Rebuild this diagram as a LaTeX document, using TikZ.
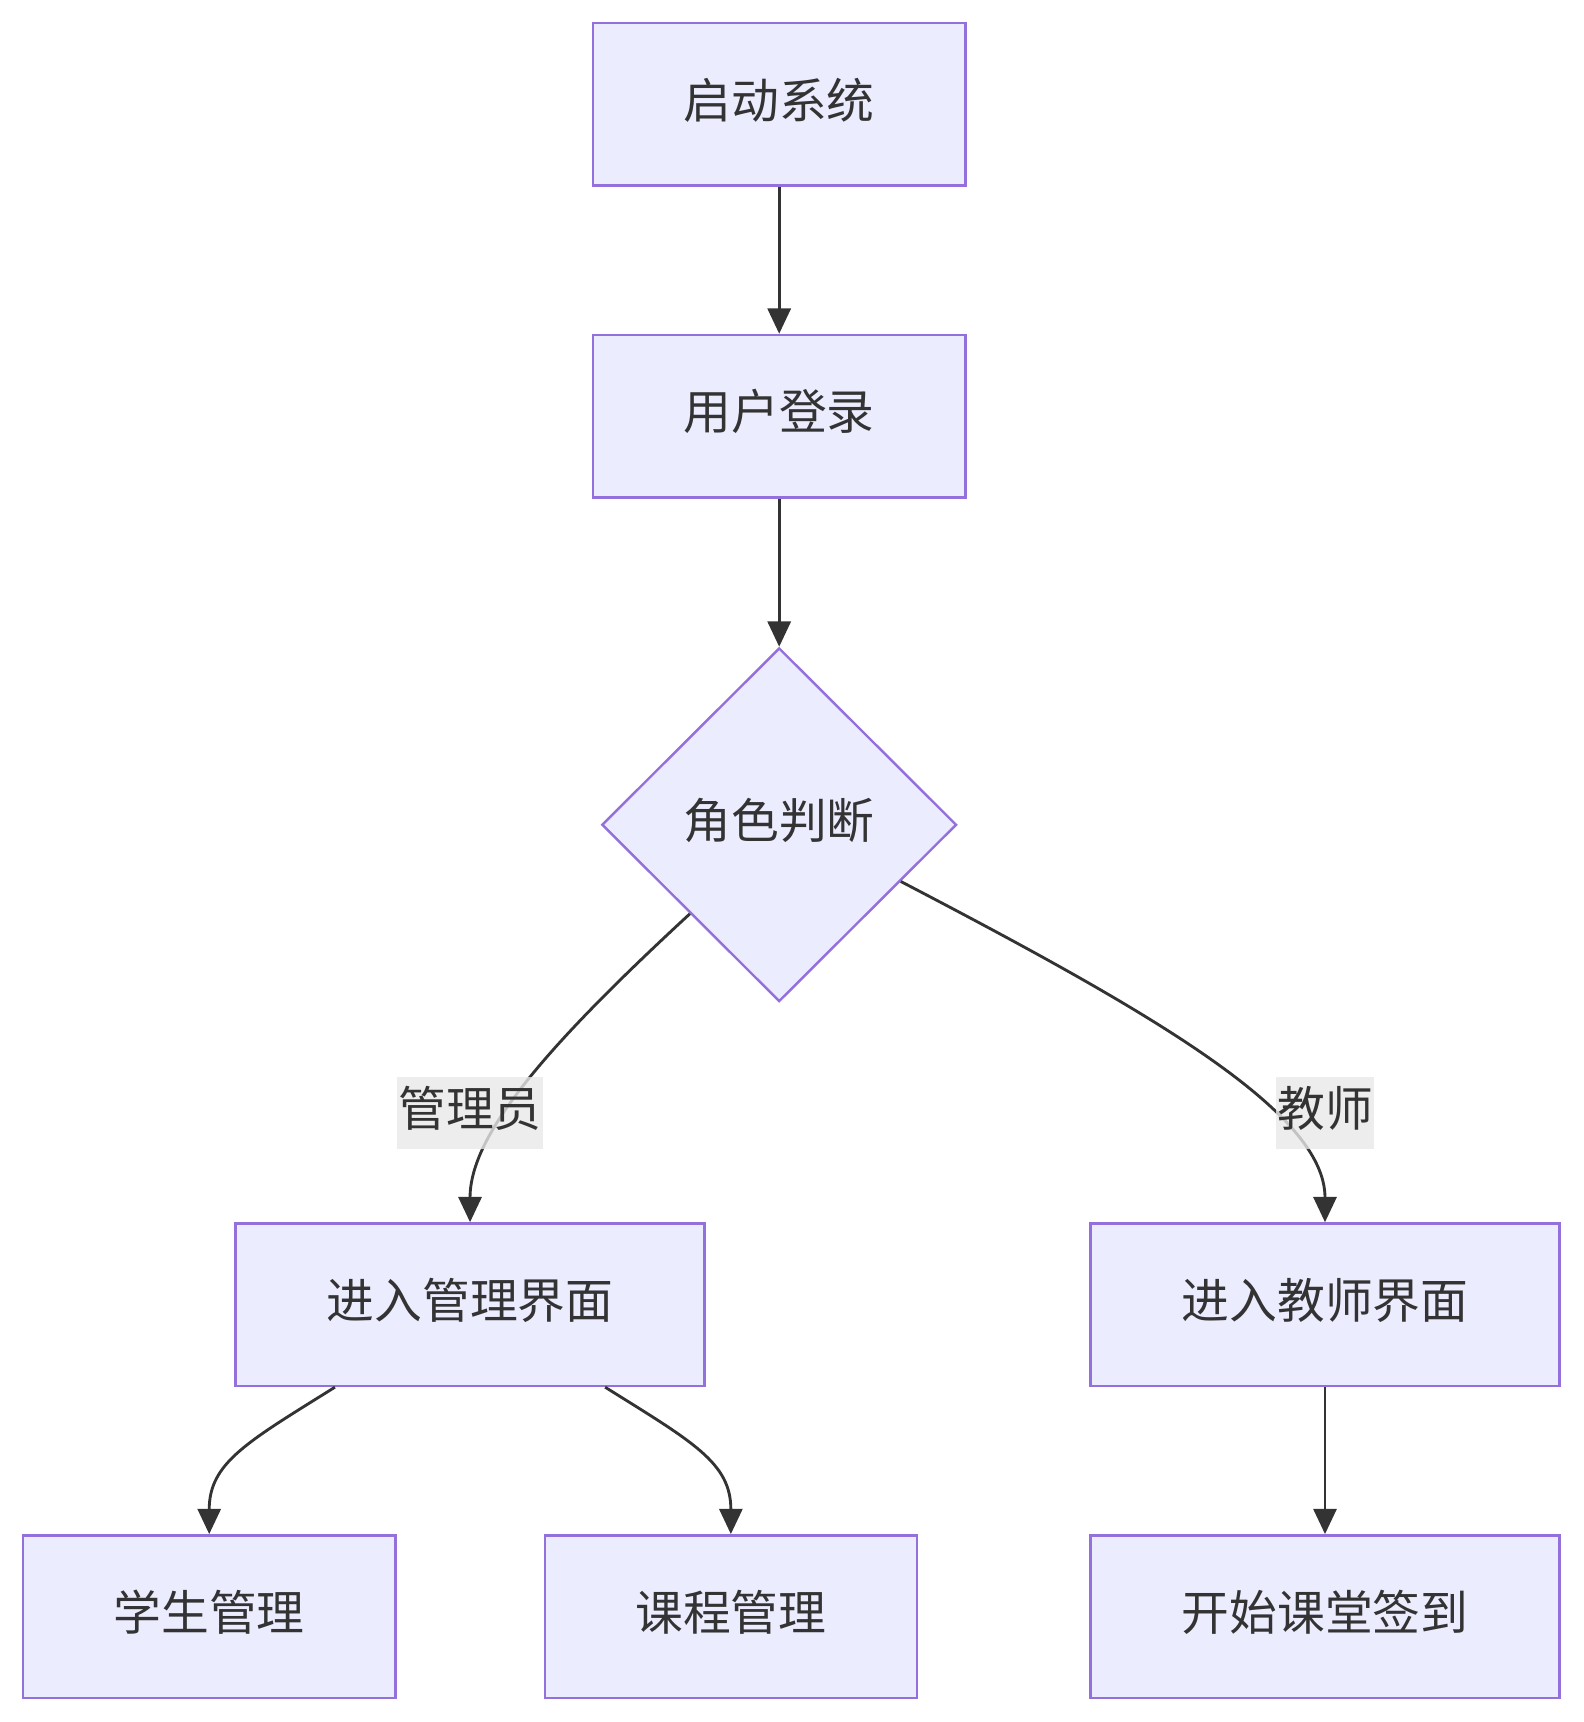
\documentclass[tikz,border=0pt]{standalone}
\usepackage{fontspec}
\setmainfont{Noto Sans CJK SC}
\usetikzlibrary{shapes.geometric,arrows.meta}
\definecolor{boxfill}{HTML}{ECECFF}
\definecolor{boxline}{HTML}{9370DB}
\definecolor{ink}{HTML}{333333}
\definecolor{lblfill}{HTML}{E8E8E8}

\begin{document}
\begin{tikzpicture}
  [x=1pt,y=-1pt,
   every node/.style={text=ink,font=\fontsize{43.5}{52}\selectfont,text height=33pt,text depth=8pt},
   box/.style={rectangle,draw=boxline,fill=boxfill,line width=2.2pt,minimum width=339pt,minimum height=148pt},
   wide/.style={box,minimum width=427pt},
   decision/.style={diamond,draw=boxline,fill=boxfill,line width=2.2pt,minimum width=323pt,minimum height=322pt,inner sep=0pt},
   lbl/.style={fill=lblfill,fill opacity=.8,text opacity=1,inner xsep=1pt,inner ysep=0pt,minimum height=65pt},
   edge/.style={draw=ink,line width=2.6pt,-{Triangle[length=23pt,width=21pt]}}]
  \useasboundingbox (0,0) rectangle (1442,1568);

  \node[box] (start) at (709.5,95) {启动系统};
  \node[box] (login) at (709.5,379) {用户登录};
  \node[decision] (role) at (709.5,751) {角色判断};
  \node[wide] (admin) at (428,1188) {进入管理界面};
  \node[wide] (teacher) at (1206.5,1188) {进入教师界面};
  \node[box] (stu) at (190.5,1472) {学生管理};
  \node[box] (course) at (665.5,1472) {课程管理};
  \node[wide] (sign) at (1206.5,1472) {开始课堂签到};

  \foreach \from/\to in {start/login,login/role,teacher/sign}
    \draw[edge] (\from) -- (\to);

  \draw[edge] (role.south west) .. controls +(-130,120) and +(0,-80) .. (admin.north);
  \draw[edge] (role.-25) .. controls +(230,120) and +(0,-100) .. (teacher.north);
  \draw[edge] ([xshift=-123pt]admin.south) .. controls +(-80,50) and +(0,-65) .. (stu.north);
  \draw[edge] ([xshift=123pt]admin.south) .. controls +(80,50) and +(0,-65) .. (course.north);

  \node[lbl] (ladmin) at (428,1013.5) {管理员};
  \node[lbl] (lteacher) at (1206.5,1013.5) {教师};
\end{tikzpicture}
\end{document}
